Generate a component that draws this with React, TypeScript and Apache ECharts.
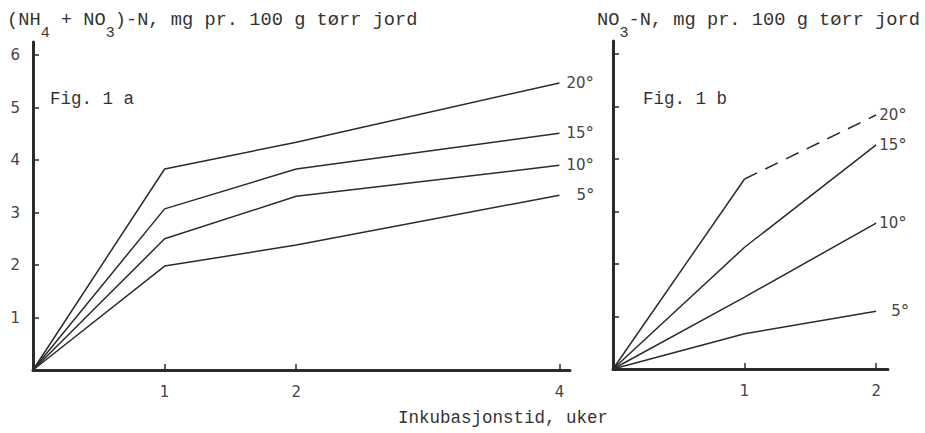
import React, { useEffect, useRef } from "react";
import * as echarts from "echarts";

// Fig. 1a: (NH4 + NO3)-N, weeks 0,1,2,4
const weeksA = [0, 1, 2, 4];
const a20 = [0, 3.83, 4.34, 5.47];
const a15 = [0, 3.07, 3.83, 4.51];
const a10 = [0, 2.5, 3.31, 3.9];
const a5 = [0, 1.98, 2.38, 3.33];

// Fig. 1b: NO3-N, weeks 0,1,2
const weeksB = [0, 1, 2];
const b20 = [0, 3.62, 4.84]; // segment 1->2 dashed
const b15 = [0, 2.32, 4.27];
const b10 = [0, 1.37, 2.78];
const b5 = [0, 0.67, 1.1];

const tempLabels = ["20", "15", "10", "5"];
const xTicksA = [1, 2, 4];
const xTicksB = [1, 2];
const yTicks = [1, 2, 3, 4, 5, 6];

const INK = "#2b2b2b";
const TXT = "#444";
const MONO = "'Liberation Mono', 'DejaVu Sans Mono', monospace";
const SANS = "'DejaVu Sans', sans-serif";

const pairs = (xs: number[], ys: number[]) => xs.map((x, i) => [x, ys[i]]);

const degRich = {
  n: { fontFamily: SANS, fontSize: 15, color: TXT, lineHeight: 18 },
  d: { fontFamily: SANS, fontSize: 17, color: TXT, lineHeight: 18 },
};

function lineSeries(name: string, grid: number, data: number[][], label: string | null, dist: number, dashed = false) {
  return {
    name,
    type: "line",
    xAxisIndex: grid,
    yAxisIndex: grid,
    data,
    symbol: "none",
    silent: true,
    lineStyle: { color: INK, width: 1.5, type: dashed ? [14, 9] : "solid" },
    endLabel: label
      ? { show: true, formatter: "{n|" + label + "}{d|°}", distance: dist, rich: degRich }
      : { show: false },
  };
}

function axisX(grid: number, max: number, ticks: number[]) {
  return {
    gridIndex: grid,
    type: "value",
    min: 0,
    max,
    axisLine: { show: true, onZero: false, lineStyle: { color: INK, width: 3 } },
    axisTick: { show: true, inside: true, length: 6, customValues: ticks, lineStyle: { color: INK, width: 1.5 } },
    axisLabel: { show: true, customValues: ticks, margin: 14, fontFamily: SANS, fontSize: 15, color: TXT },
    splitLine: { show: false },
  };
}

function axisY(grid: number, showLabels: boolean) {
  return {
    gridIndex: grid,
    type: "value",
    min: 0,
    max: 6.25,
    axisLine: { show: true, onZero: false, lineStyle: { color: INK, width: 3 } },
    axisTick: { show: true, inside: true, length: 6, customValues: yTicks, lineStyle: { color: INK, width: 1.5 } },
    axisLabel: { show: showLabels, customValues: yTicks, margin: 13, fontFamily: SANS, fontSize: 15, color: TXT },
    splitLine: { show: false },
  };
}

const titleRich = {
  t: { fontFamily: MONO, fontSize: 18.7, fontWeight: "normal", color: "#333", lineHeight: 20, verticalAlign: "top" },
  s: { fontFamily: MONO, fontSize: 15, fontWeight: "normal", color: "#333", lineHeight: 31, verticalAlign: "bottom" },
};

const plainText = { fontFamily: MONO, fontSize: 17.5, fontWeight: "normal", color: "#333" };

export default function App() {
  const ref = useRef<HTMLDivElement>(null);
  useEffect(() => {
    if (!ref.current) return;
    const chart = echarts.init(ref.current, null, { renderer: "svg" });
    const series = [
      lineSeries("20a", 0, pairs(weeksA, a20), tempLabels[0], 7),
      lineSeries("15a", 0, pairs(weeksA, a15), tempLabels[1], 7),
      lineSeries("10a", 0, pairs(weeksA, a10), tempLabels[2], 7),
      lineSeries("5a", 0, pairs(weeksA, a5), tempLabels[3], 17),
      lineSeries("20b", 1, pairs(weeksB.slice(0, 2), b20.slice(0, 2)), null, 0),
      lineSeries("20b-dash", 1, pairs(weeksB.slice(1), b20.slice(1)), tempLabels[0], 3, true),
      lineSeries("15b", 1, pairs(weeksB, b15), tempLabels[1], 3),
      lineSeries("10b", 1, pairs(weeksB, b10), tempLabels[2], 3),
      lineSeries("5b", 1, pairs(weeksB, b5), tempLabels[3], 15),
    ];
    chart.setOption({
      animation: false,
      backgroundColor: "#ffffff",
      title: [
        {
          text: "{t|(NH}{s|4}{t| + NO}{s|3}{t|)-N, mg pr. 100 g tørr jord}",
          left: 7,
          top: 10,
          padding: 0,
          textStyle: { fontWeight: "normal", rich: titleRich },
        },
        {
          text: "{t|NO}{s|3}{t|-N, mg pr. 100 g tørr jord}",
          left: 597,
          top: 10,
          padding: 0,
          textStyle: { fontWeight: "normal", rich: titleRich },
        },
        { text: "Fig. 1 a", left: 50, top: 90, padding: 0, textStyle: plainText },
        { text: "Fig. 1 b", left: 643, top: 90, padding: 0, textStyle: plainText },
        { text: "Inkubasjonstid, uker", left: 398, top: 409, padding: 0, textStyle: plainText },
      ],
      grid: [
        { left: 33, top: 42, width: 537, height: 328 },
        { left: 613, top: 41, width: 275, height: 328 },
      ],
      xAxis: [axisX(0, 4.08, xTicksA), axisX(1, 2.09, xTicksB)],
      yAxis: [axisY(0, true), axisY(1, false)],
      series,
    });
    return () => chart.dispose();
  }, []);
  return <div ref={ref} style={{ position: "fixed", left: 0, top: 0, width: 925, height: 433 }} />;
}
